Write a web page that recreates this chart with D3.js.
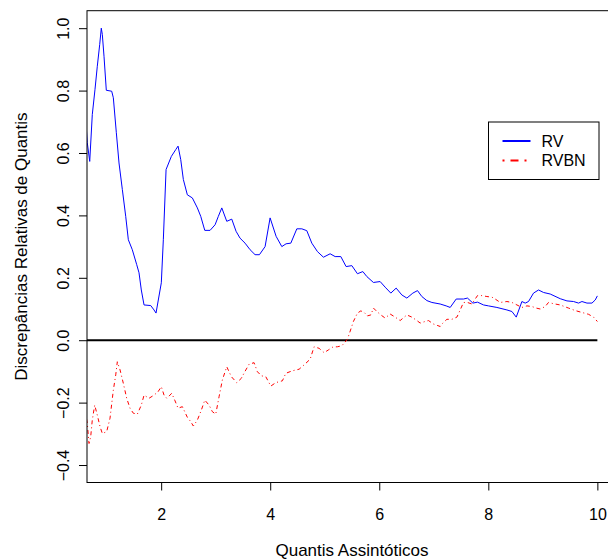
<!DOCTYPE html>
<html>
<head>
<meta charset="utf-8">
<script src="https://cdn.jsdelivr.net/npm/d3@7"></script>
<style>
  body { margin: 0; background: #fff; }
  text { font-family: "Liberation Sans", Arial, sans-serif; fill: #000; }
</style>
</head>
<body>
<script>
// quantile positions and relative discrepancies
const rvX = [0.62, 0.645, 0.69, 0.737, 0.787, 0.829, 0.873, 0.902, 0.921, 0.952, 0.994,
  1.093, 1.123, 1.178, 1.227, 1.288, 1.35, 1.398, 1.471, 1.552, 1.594, 1.636, 1.686,
  1.809, 1.869, 1.906, 2.003, 2.04, 2.09, 2.187, 2.268, 2.31, 2.359, 2.407, 2.48,
  2.572, 2.664, 2.726, 2.8, 2.897, 2.989, 3.049, 3.112, 3.203, 3.295, 3.374, 3.447,
  3.539, 3.631, 3.723, 3.802, 3.906, 3.998, 4.108, 4.213, 4.291, 4.378, 4.488, 4.58,
  4.671, 4.763, 4.866, 4.976, 5.099, 5.191, 5.295, 5.392, 5.497, 5.6, 5.699, 5.772,
  5.893, 6.016, 6.108, 6.212, 6.31, 6.414, 6.506, 6.616, 6.701, 6.781, 6.873, 6.965,
  7.117, 7.227, 7.301, 7.411, 7.545, 7.618, 7.717, 7.802, 7.912, 8.003, 8.157, 8.341,
  8.433, 8.512, 8.616, 8.677, 8.737, 8.829, 8.921, 9.013, 9.135, 9.319, 9.442, 9.563,
  9.655, 9.717, 9.809, 9.901, 9.961, 10.0];
const rvY = [0.70, 0.633, 0.573, 0.723, 0.804, 0.878, 0.948, 1.0, 0.98, 0.91, 0.801,
  0.798, 0.777, 0.665, 0.568, 0.483, 0.397, 0.322, 0.29, 0.242, 0.216, 0.161, 0.113,
  0.111, 0.097, 0.087, 0.184, 0.322, 0.547, 0.589, 0.611, 0.622, 0.579, 0.515, 0.466,
  0.456, 0.424, 0.397, 0.352, 0.352, 0.37, 0.397, 0.424, 0.381, 0.388, 0.349, 0.327,
  0.311, 0.29, 0.274, 0.274, 0.3, 0.392, 0.333, 0.3, 0.309, 0.311, 0.357, 0.357,
  0.351, 0.311, 0.284, 0.266, 0.277, 0.268, 0.268, 0.236, 0.239, 0.213, 0.22, 0.204,
  0.185, 0.188, 0.17, 0.151, 0.167, 0.145, 0.135, 0.151, 0.159, 0.14, 0.127, 0.121,
  0.116, 0.11, 0.105, 0.132, 0.132, 0.135, 0.119, 0.122, 0.113, 0.11, 0.105, 0.097,
  0.092, 0.074, 0.124, 0.119, 0.124, 0.151, 0.161, 0.153, 0.148, 0.133, 0.126, 0.124,
  0.119, 0.124, 0.119, 0.119, 0.129, 0.142];

const rvbnX = [0.62, 0.645, 0.677, 0.708, 0.737, 0.781, 0.829, 0.879, 0.921, 1.001, 1.062,
  1.123, 1.167, 1.196, 1.246, 1.306, 1.368, 1.429, 1.49, 1.563, 1.636, 1.686, 1.778,
  1.869, 1.943, 2.003, 2.053, 2.102, 2.145, 2.194, 2.249, 2.31, 2.389, 2.48, 2.543,
  2.59, 2.664, 2.737, 2.8, 2.879, 2.939, 3.001, 3.062, 3.123, 3.203, 3.288, 3.387,
  3.471, 3.534, 3.613, 3.704, 3.765, 3.838, 3.919, 4.011, 4.102, 4.224, 4.286, 4.407,
  4.53, 4.622, 4.732, 4.805, 4.897, 4.989, 5.068, 5.148, 5.233, 5.313, 5.416, 5.453,
  5.526, 5.6, 5.662, 5.723, 5.783, 5.846, 5.893, 5.956, 6.029, 6.108, 6.2, 6.291,
  6.383, 6.506, 6.598, 6.69, 6.75, 6.842, 6.902, 6.994, 7.117, 7.166, 7.24, 7.332,
  7.424, 7.484, 7.545, 7.618, 7.699, 7.759, 7.802, 7.882, 7.974, 8.066, 8.126, 8.218,
  8.341, 8.433, 8.525, 8.616, 8.708, 8.8, 8.879, 8.952, 9.044, 9.104, 9.196, 9.319,
  9.471, 9.594, 9.717, 9.838, 9.93, 10.0];
const rvbnY = [-0.24, -0.266, -0.331, -0.309, -0.256, -0.208, -0.24, -0.277, -0.299, -0.293, -0.25,
  -0.16, -0.111, -0.069, -0.095, -0.138, -0.186, -0.218, -0.234, -0.237, -0.208, -0.176, -0.186,
  -0.176, -0.165, -0.149, -0.176, -0.186, -0.179, -0.17, -0.192, -0.218, -0.213, -0.247, -0.261,
  -0.275, -0.256, -0.224, -0.192, -0.208, -0.229, -0.237, -0.181, -0.127, -0.085, -0.117, -0.136,
  -0.122, -0.101, -0.077, -0.072, -0.101, -0.114, -0.117, -0.147, -0.136, -0.13, -0.106, -0.098,
  -0.093, -0.079, -0.061, -0.021, -0.026, -0.04, -0.031, -0.022, -0.021, -0.018, 0.003, 0.022,
  0.06, 0.087, 0.094, 0.089, 0.078, 0.081, 0.103, 0.092, 0.081, 0.071, 0.084, 0.074,
  0.063, 0.081, 0.074, 0.063, 0.055, 0.06, 0.063, 0.052, 0.044, 0.055, 0.067, 0.067,
  0.074, 0.097, 0.121, 0.121, 0.116, 0.132, 0.143, 0.143, 0.14, 0.138, 0.132, 0.121,
  0.124, 0.121, 0.113, 0.105, 0.11, 0.108, 0.103, 0.1, 0.108, 0.121, 0.117, 0.113,
  0.103, 0.095, 0.089, 0.083, 0.074, 0.06];

const xTicks = [2, 4, 6, 8, 10];
const yTicks = [-0.4, -0.2, 0.0, 0.2, 0.4, 0.6, 0.8, 1.0];
const seriesNames = ['RV', 'RVBN'];
const seriesColors = ['blue', 'red'];
const xlim = [1, 10];
const ylim = [-0.4, 1.0];

const W = 608, H = 560;
const plot = { left: 87, right: 617, top: 10.7, bottom: 482.5 };

const svg = d3.select('body').append('svg')
  .attr('width', W).attr('height', H);

// R style 4% padding around the limits
const xPad = (xlim[1] - xlim[0]) * 0.04;
const yPad = (ylim[1] - ylim[0]) * 0.04;
const x = d3.scaleLinear()
  .domain([xlim[0] - xPad, xlim[1] + xPad])
  .range([plot.left, plot.right]);
const y = d3.scaleLinear()
  .domain([ylim[0] - yPad, ylim[1] + yPad])
  .range([plot.bottom, plot.top]);

svg.append('clipPath').attr('id', 'clip')
  .append('rect')
  .attr('x', plot.left).attr('y', plot.top)
  .attr('width', plot.right - plot.left)
  .attr('height', plot.bottom - plot.top);

const g = svg.append('g').attr('clip-path', 'url(#clip)');

// zero line
g.append('line')
  .attr('x1', x(0.5)).attr('x2', x(10))
  .attr('y1', y(0)).attr('y2', y(0))
  .attr('stroke', '#000').attr('stroke-width', 2);

const line = d3.line().x((d) => x(d[0])).y((d) => y(d[1]));

g.append('path')
  .datum(d3.zip(rvX, rvY))
  .attr('d', line)
  .attr('fill', 'none')
  .attr('stroke', seriesColors[0])
  .attr('stroke-width', 1);

g.append('path')
  .datum(d3.zip(rvbnX, rvbnY))
  .attr('d', line)
  .attr('fill', 'none')
  .attr('stroke', seriesColors[1])
  .attr('stroke-width', 1)
  .attr('stroke-dasharray', '1,3,4,3');

// box (right side is past the edge of the picture)
svg.append('rect')
  .attr('x', plot.left).attr('y', plot.top)
  .attr('width', plot.right - plot.left)
  .attr('height', plot.bottom - plot.top)
  .attr('fill', 'none').attr('stroke', '#000').attr('stroke-width', 1);

// axes
const xAxis = svg.append('g')
  .attr('transform', `translate(0,${plot.bottom})`)
  .call(d3.axisBottom(x).tickValues(xTicks).tickSize(8).tickPadding(18)
    .tickFormat(d3.format('d')));
xAxis.select('.domain').remove();
xAxis.selectAll('text').attr('font-size', 16).attr('font-family', null);
xAxis.selectAll('line').attr('stroke', '#000');

const yAxis = svg.append('g')
  .attr('transform', `translate(${plot.left},0)`)
  .call(d3.axisLeft(y).tickValues(yTicks).tickSize(8).tickFormat(d3.format('.1f')));
yAxis.select('.domain').remove();
yAxis.selectAll('line').attr('stroke', '#000');
yAxis.selectAll('text')
  .attr('font-size', 16).attr('font-family', null)
  .attr('x', null).attr('dy', null)
  .attr('text-anchor', 'middle')
  .attr('transform', 'translate(-24,0) rotate(-90)')
  .attr('dy', '0.35em');

// titles
svg.append('text')
  .attr('x', (plot.left + plot.right) / 2).attr('y', 556)
  .attr('text-anchor', 'middle').attr('font-size', 17)
  .text('Quantis Assintóticos');

svg.append('text')
  .attr('transform', `translate(27,${(plot.top + plot.bottom) / 2}) rotate(-90)`)
  .attr('text-anchor', 'middle').attr('font-size', 17)
  .text('Discrepâncias Relativas de Quantis');

// legend
const legend = svg.append('g').attr('transform', 'translate(488.5,122)');
legend.append('rect')
  .attr('width', 110.5).attr('height', 57.5)
  .attr('fill', '#fff').attr('stroke', '#000');
seriesNames.forEach((name, i) => {
  const ly = 19 + i * 19.5;
  legend.append('line')
    .attr('x1', 14).attr('x2', 42).attr('y1', ly).attr('y2', ly)
    .attr('stroke', seriesColors[i]).attr('stroke-width', 2)
    .attr('stroke-dasharray', i === 1 ? '2,6,8,6' : null);
  legend.append('text')
    .attr('x', 53).attr('y', ly).attr('dy', '0.35em')
    .attr('font-size', 16).text(name);
});
</script>
</body>
</html>
